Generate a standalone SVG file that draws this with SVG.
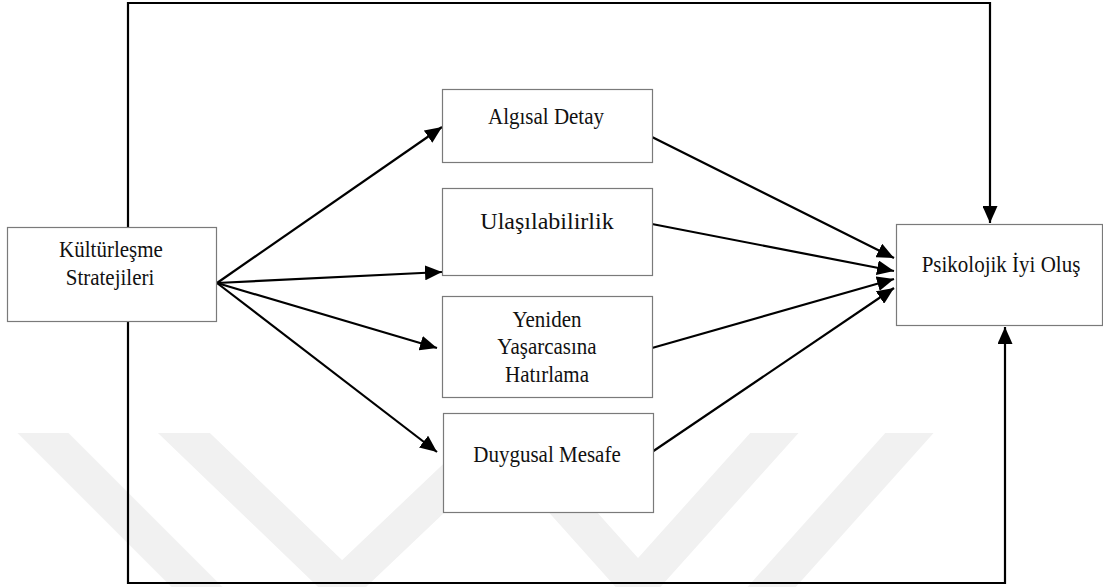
<svg xmlns="http://www.w3.org/2000/svg" width="1103" height="587" viewBox="0 0 1103 587">
<style>
.box{fill:#ffffff;stroke:#7a7a7a;stroke-width:1.2}
text{font-family:'Liberation Serif','Times New Roman','DejaVu Serif',serif;font-size:21px;fill:#111;text-anchor:middle}
.big{font-size:24px}
.ln{fill:none;stroke:#000;stroke-width:2.2}
.wm{fill:none;stroke:#f1f1f1;stroke-width:36;stroke-linejoin:miter}
</style>
<defs>
<marker id="ah" markerUnits="userSpaceOnUse" markerWidth="18" markerHeight="15" refX="17" refY="7.5" orient="auto">
<path d="M0,0 L17,7.5 L0,15 z" fill="#000"/>
</marker>
<clipPath id="wmclip"><rect x="0" y="433" width="1103" height="154"/></clipPath>
</defs>
<rect width="1103" height="587" fill="#ffffff"/>
<g id="watermark" clip-path="url(#wmclip)">
<polyline class="wm" points="160,410 342,585 502,433 638,585 795,410"/>
<line class="wm" x1="20" y1="410" x2="210" y2="600"/>
<line class="wm" x1="930" y1="410" x2="760" y2="600"/>
</g>
<g id="connectors">
<polyline class="ln" points="128,227 128,3 990,3 990,223" marker-end="url(#ah)"/>
<polyline class="ln" points="128,321 128,583 1005,583 1005,327" marker-end="url(#ah)"/>
<line class="ln" x1="217" y1="283" x2="442" y2="127" marker-end="url(#ah)"/>
<line class="ln" x1="217" y1="283" x2="442" y2="272" marker-end="url(#ah)"/>
<line class="ln" x1="217" y1="283" x2="437" y2="348" marker-end="url(#ah)"/>
<line class="ln" x1="217" y1="283" x2="437" y2="452" marker-end="url(#ah)"/>
<line class="ln" x1="652" y1="137" x2="894" y2="258" marker-end="url(#ah)"/>
<line class="ln" x1="652" y1="224" x2="894" y2="271" marker-end="url(#ah)"/>
<line class="ln" x1="652" y1="348" x2="894" y2="279" marker-end="url(#ah)"/>
<line class="ln" x1="652" y1="452" x2="894" y2="288" marker-end="url(#ah)"/>
</g>
<g id="kulturlesme">
<rect class="box" x="7.5" y="227.5" width="209" height="94"/>
<text transform="translate(111,257) scale(1,1.1)">Kültürleşme</text>
<text transform="translate(110,285) scale(1,1.1)">Stratejileri</text>
</g>
<g id="algisal">
<rect class="box" x="442.5" y="89.5" width="210" height="73"/>
<text transform="translate(546,124) scale(1,1.1)">Algısal Detay</text>
</g>
<g id="ulasilabilirlik">
<rect class="box" x="442.5" y="188.5" width="210" height="87"/>
<text class="big" transform="translate(547,229)">Ulaşılabilirlik</text>
</g>
<g id="yeniden">
<rect class="box" x="442.5" y="296.5" width="210" height="101"/>
<text transform="translate(547,327) scale(1,1.1)">Yeniden</text>
<text transform="translate(547,354) scale(1,1.1)">Yaşarcasına</text>
<text transform="translate(547,382) scale(1,1.1)">Hatırlama</text>
</g>
<g id="duygusal">
<rect class="box" x="443.5" y="413.5" width="210" height="99"/>
<text transform="translate(547,462) scale(1,1.1)">Duygusal Mesafe</text>
</g>
<g id="psikolojik">
<rect class="box" x="896.5" y="224.5" width="206" height="101"/>
<text transform="translate(1001,272) scale(1,1.1)">Psikolojik İyi Oluş</text>
</g>
</svg>
